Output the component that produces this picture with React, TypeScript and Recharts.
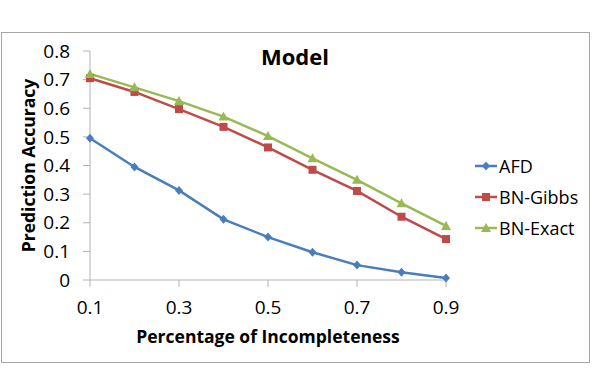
import { LineChart, Line, XAxis, YAxis } from 'recharts';

// Percentage of incompleteness (x categories)
const categories = [0.1, 0.2, 0.3, 0.4, 0.5, 0.6, 0.7, 0.8, 0.9];
const xTicks = [0.1, 0.3, 0.5, 0.7, 0.9];
const yTicks = [0, 0.1, 0.2, 0.3, 0.4, 0.5, 0.6, 0.7, 0.8];

// Prediction accuracy per model
const afd = [0.495, 0.395, 0.313, 0.212, 0.15, 0.097, 0.052, 0.027, 0.007];
const bnGibbs = [0.705, 0.657, 0.597, 0.535, 0.463, 0.385, 0.311, 0.221, 0.143];
const bnExact = [0.72, 0.673, 0.625, 0.571, 0.503, 0.425, 0.35, 0.268, 0.189];

const FONT = '"Open Sans", sans-serif';
const AXIS = '#b3b3b3';

const data = categories.map((x, i) => ({
  x,
  afd: afd[i],
  gibbs: bnGibbs[i],
  exact: bnExact[i],
}));

type Shape = 'diamond' | 'square' | 'triangle';

function Marker({ cx, cy, shape, color }: { cx: number; cy: number; shape: Shape; color: string }) {
  if (shape === 'diamond') {
    return <path d={`M${cx},${cy - 4.5}L${cx + 4},${cy}L${cx},${cy + 4.5}L${cx - 4},${cy}Z`} fill={color} />;
  }
  if (shape === 'square') {
    return <rect x={cx - 4} y={cy - 4} width={8} height={8} fill={color} />;
  }
  return <path d={`M${cx},${cy - 5}L${cx + 5},${cy + 4}L${cx - 5},${cy + 4}Z`} fill={color} />;
}

const series = [
  { key: 'afd', name: 'AFD', color: '#4A7EBB', shape: 'diamond' as Shape },
  { key: 'gibbs', name: 'BN-Gibbs', color: '#BE4B48', shape: 'square' as Shape },
  { key: 'exact', name: 'BN-Exact', color: '#98B954', shape: 'triangle' as Shape },
];

const dotRenderer = (shape: Shape, color: string) => (props: any) => {
  const { cx, cy, index } = props;
  if (cx == null || cy == null) return <g key={`d-${index}`} />;
  return <Marker key={`d-${index}`} cx={cx} cy={cy} shape={shape} color={color} />;
};

export default function App() {
  return (
    <div style={{ position: 'absolute', left: 0, top: 0, width: 598, height: 375, background: '#fff' }}>
      <div
        style={{
          position: 'absolute',
          left: 1,
          top: 32,
          width: 587,
          height: 329,
          border: '1px solid #a6a6a6',
        }}
      />
      <LineChart
        width={598}
        height={375}
        data={data}
        margin={{ top: 51, right: 152, left: 0, bottom: 0 }}
        style={{ position: 'absolute', left: 0, top: 0 }}
      >
        <XAxis
          dataKey="x"
          type="number"
          domain={[0.1, 0.9]}
          ticks={xTicks}
          height={95}
          tickSize={7}
          tickMargin={14}
          stroke={AXIS}
          tick={{ fill: '#000', fontSize: 19, fontFamily: FONT }}
          label={{
            value: 'Percentage of Incompleteness',
            position: 'insideBottom',
            offset: 32,
            style: { fontFamily: FONT, fontSize: 17.5, fontWeight: 700, fill: '#000' },
          }}
        />
        <YAxis
          domain={[0, 0.8]}
          ticks={yTicks}
          width={90}
          tickSize={7}
          tickMargin={13}
          stroke={AXIS}
          tickFormatter={(v: number) => String(v)}
          tick={{ fill: '#000', fontSize: 19, fontFamily: FONT }}
          label={{
            value: 'Prediction Accuracy',
            angle: -90,
            position: 'insideLeft',
            offset: 29,
            style: { textAnchor: 'middle', fontFamily: FONT, fontSize: 17.5, fontWeight: 700, fill: '#000' },
          }}
        />
        {series.map(s => (
          <Line
            key={s.key}
            dataKey={s.key}
            name={s.name}
            stroke={s.color}
            strokeWidth={2.5}
            dot={dotRenderer(s.shape, s.color)}
            activeDot={false}
            isAnimationActive={false}
          />
        ))}
      </LineChart>
      <svg
        width={598}
        height={375}
        style={{ position: 'absolute', left: 0, top: 0, pointerEvents: 'none' }}
      >
        <text x={295} y={65} textAnchor="middle" fontFamily={FONT} fontSize={22} fontWeight={700} fill="#000">
          Model
        </text>
        {series.map((s, i) => {
          const cy = 166 + i * 31;
          return (
            <g key={s.key}>
              <line x1={475} x2={497} y1={cy} y2={cy} stroke={s.color} strokeWidth={2.5} />
              <Marker cx={486} cy={cy} shape={s.shape} color={s.color} />
              <text x={499} y={cy + 6.5} fontFamily={FONT} fontSize={18} fill="#000">
                {s.name}
              </text>
            </g>
          );
        })}
      </svg>
    </div>
  );
}
